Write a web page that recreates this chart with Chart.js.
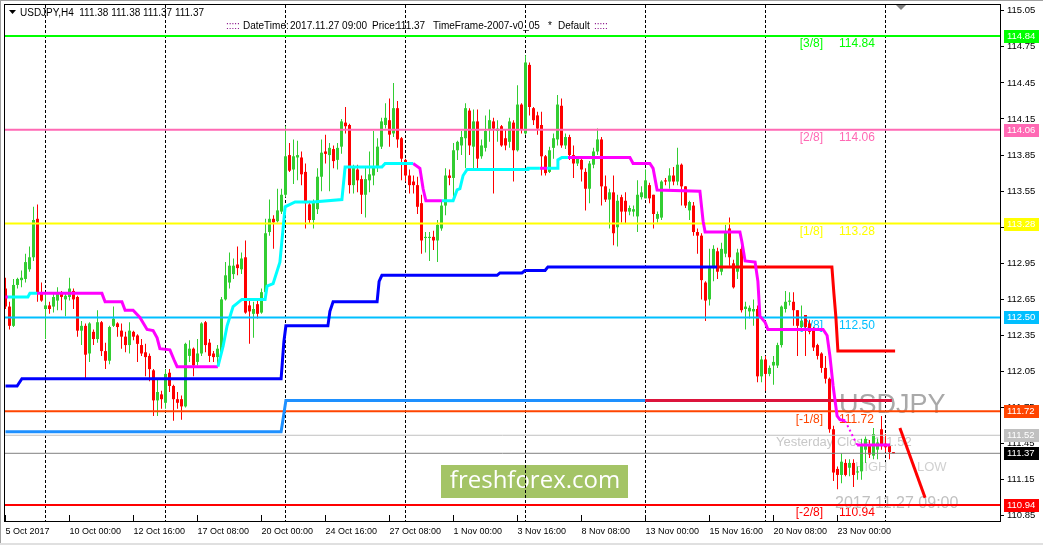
<!DOCTYPE html>
<html>
<head>
<meta charset="utf-8">
<title>USDJPY,H4</title>
<script src="https://cdn.jsdelivr.net/npm/chart.js@4.4.1/dist/chart.umd.min.js"></script>
<style>
  html, body { margin: 0; padding: 0; background: #fff; }
  #wrap { width: 1043px; height: 545px; }
</style>
</head>
<body>
<div id="wrap"><canvas id="chart" width="1043" height="545"></canvas></div>
<script>
// --------------
// DATA (H4 bars, 5 Oct 2017 08:00 .. 27 Nov 2017 08:00)
// --------------
const barOpen = [
  112.74,112.59,112.43,112.77,112.81,112.82,112.90,113.00,113.32,112.70,
  112.57,112.60,112.59,112.64,112.71,112.65,112.67,112.72,112.67,112.39,
  112.43,112.20,112.38,112.32,112.46,112.22,112.14,112.43,112.45,112.39,
  112.34,112.27,112.38,112.35,112.27,112.21,112.18,112.06,111.81,111.86,
  111.79,112.04,111.93,111.82,111.82,111.76,112.18,112.24,112.13,112.20,
  112.46,112.29,112.20,112.17,112.21,112.65,112.79,112.86,112.94,112.90,
  113.00,112.60,112.53,112.61,112.54,112.71,113.21,113.32,113.30,113.38,
  113.52,113.85,113.73,113.83,113.83,113.71,113.44,113.31,113.40,113.67,
  113.88,113.85,113.90,113.81,113.92,114.12,114.10,113.60,113.73,113.65,
  113.52,113.64,113.68,113.75,113.92,114.10,114.14,114.03,114.24,113.99,
  113.81,113.68,113.63,113.60,113.45,113.16,113.16,113.17,113.14,113.24,
  113.43,113.68,113.66,113.89,113.93,113.99,114.22,113.92,114.13,113.84,
  113.91,114.06,114.13,114.05,114.09,113.99,113.96,114.12,113.89,114.27,
  114.03,114.60,114.24,114.18,114.10,113.84,113.71,113.91,113.98,114.26,
  113.93,114.00,113.85,113.78,113.81,113.71,113.57,113.77,113.88,113.98,
  113.59,113.48,113.54,113.25,113.50,113.47,113.38,113.38,113.34,113.50,
  113.49,113.60,113.52,113.32,113.33,113.64,113.63,113.68,113.63,113.77,
  113.59,113.39,113.43,113.21,113.18,112.79,112.65,112.91,113.05,112.88,
  113.03,113.24,112.95,112.88,113.07,112.57,112.55,112.55,112.57,112.01,
  112.15,112.03,112.10,112.10,112.27,112.57,112.63,112.63,112.56,112.42,
  112.52,112.45,112.40,112.27,112.20,112.08,111.99,111.57,111.24,111.19,
  111.29,111.25,111.29,111.21,111.22,111.40,111.43,111.35,111.40,111.57,
  111.45,111.43,111.38
];
const barHigh = [
  112.83,112.63,112.82,112.83,112.89,113.03,113.09,113.42,113.44,112.79,
  112.71,112.63,112.71,112.75,112.72,112.70,112.83,112.74,112.68,112.47,
  112.45,112.46,112.40,112.56,112.47,112.29,112.43,112.59,112.46,112.45,
  112.38,112.46,112.39,112.36,112.32,112.28,112.20,112.07,111.99,111.89,
  112.07,112.07,111.94,111.88,111.85,112.29,112.31,112.25,112.32,112.46,
  112.47,112.32,112.22,112.27,112.67,112.96,113.04,112.99,113.09,113.04,
  113.14,112.66,112.63,112.64,112.74,113.32,113.48,113.35,113.57,113.57,
  114.09,113.95,113.98,113.97,113.88,113.78,113.47,113.48,113.74,113.98,
  114.02,113.95,113.93,113.95,114.15,114.25,114.11,113.77,113.77,113.68,
  113.75,113.88,114.05,113.99,114.16,114.28,114.32,114.45,114.30,114.00,
  113.82,113.73,113.68,113.67,113.52,113.21,113.21,113.22,113.31,113.47,
  113.74,113.73,113.95,113.97,114.05,114.28,114.24,114.23,114.23,113.98,
  114.18,114.23,114.16,114.14,114.10,114.06,114.16,114.14,114.43,114.28,
  114.68,114.62,114.25,114.21,114.21,113.85,113.92,114.03,114.35,114.32,
  114.03,114.02,113.93,113.84,113.82,113.74,113.80,113.91,114.07,114.00,
  113.68,113.57,113.68,113.52,113.52,113.54,113.43,113.43,113.64,113.59,
  113.73,113.62,113.52,113.38,113.64,113.66,113.74,113.75,113.91,113.78,
  113.59,113.47,113.46,113.24,113.20,112.80,113.07,113.10,113.08,113.12,
  113.27,113.33,112.98,113.07,113.10,112.63,112.60,112.65,112.60,112.18,
  112.18,112.10,112.18,112.29,112.60,112.72,112.71,112.71,112.56,112.60,
  112.52,112.48,112.42,112.28,112.21,112.18,112.00,111.60,111.26,111.37,
  111.32,111.32,111.32,111.26,111.49,111.51,111.48,111.58,111.49,111.68,
  111.53,111.45,111.38
];
const barLow = [
  112.57,112.40,112.42,112.74,112.75,112.79,112.88,112.97,112.63,112.63,
  112.32,112.53,112.54,112.56,112.56,112.51,112.64,112.57,112.34,112.27,
  111.99,112.13,112.27,112.29,112.18,112.07,112.11,112.42,112.34,112.24,
  112.21,112.20,112.31,112.13,112.18,112.01,111.97,111.68,111.68,111.74,
  111.74,111.88,111.64,111.74,111.65,111.75,112.13,112.01,112.10,112.18,
  112.21,112.13,112.13,112.10,112.20,112.64,112.74,112.82,112.85,112.86,
  112.53,112.28,112.33,112.49,112.53,112.70,113.18,113.07,113.29,113.36,
  113.50,113.71,113.61,113.64,113.60,113.24,113.28,113.24,113.36,113.55,
  113.78,113.55,113.74,113.73,113.86,114.03,113.53,113.53,113.54,113.36,
  113.33,113.54,113.60,113.71,113.90,114.07,113.92,114.00,113.91,113.64,
  113.63,113.53,113.53,113.36,113.03,113.04,112.97,113.06,112.96,113.22,
  113.35,113.60,113.46,113.81,113.85,113.74,113.85,113.74,113.74,113.82,
  113.88,113.96,113.53,113.96,113.92,113.89,113.91,113.63,113.88,114.03,
  114.02,114.18,114.10,114.02,113.68,113.68,113.70,113.82,113.93,113.91,
  113.90,113.81,113.66,113.76,113.63,113.39,113.45,113.74,113.85,113.43,
  113.46,113.24,113.10,113.09,113.29,113.28,113.35,113.34,113.21,113.48,
  113.49,113.45,113.24,113.29,113.31,113.60,113.57,113.60,113.60,113.43,
  113.41,113.31,113.18,113.03,112.65,112.47,112.60,112.80,112.82,112.85,
  113.00,112.93,112.74,112.82,112.54,112.40,112.49,112.43,111.96,111.96,
  111.89,112.01,111.94,112.08,112.25,112.54,112.60,112.43,112.18,112.39,
  112.18,112.36,112.22,112.15,112.04,111.95,111.54,111.14,111.07,111.12,
  111.18,111.18,111.09,111.15,111.15,111.29,111.33,111.32,111.32,111.40,
  111.38,111.32,111.37
];
const barClose = [
  112.59,112.43,112.77,112.82,112.83,112.96,113.00,113.31,112.70,112.64,
  112.60,112.57,112.67,112.71,112.67,112.68,112.74,112.65,112.39,112.43,
  112.19,112.45,112.32,112.46,112.22,112.14,112.42,112.49,112.42,112.34,
  112.27,112.39,112.34,112.28,112.20,112.17,112.07,111.81,111.88,111.82,
  112.03,111.93,111.82,111.79,111.76,112.28,112.24,112.10,112.20,112.45,
  112.27,112.18,112.17,112.24,112.65,112.85,112.93,112.93,112.91,112.99,
  112.54,112.55,112.57,112.53,112.71,113.20,113.32,113.29,113.39,113.52,
  113.84,113.72,113.84,113.85,113.69,113.45,113.31,113.46,113.67,113.87,
  113.86,113.91,113.80,113.91,114.13,114.09,113.60,113.75,113.64,113.52,
  113.65,113.69,113.75,113.92,114.13,114.16,114.02,114.24,113.98,113.82,
  113.68,113.60,113.60,113.42,113.14,113.17,113.17,113.14,113.27,113.43,
  113.68,113.66,113.89,113.96,114.00,114.24,113.93,114.13,113.82,113.93,
  114.05,114.14,114.07,114.07,113.93,113.93,114.13,113.89,114.27,114.06,
  114.62,114.25,114.14,114.07,113.84,113.70,113.89,113.99,114.27,113.93,
  114.00,113.85,113.78,113.82,113.73,113.57,113.78,113.88,113.98,113.59,
  113.48,113.54,113.20,113.47,113.38,113.38,113.41,113.40,113.52,113.54,
  113.64,113.49,113.36,113.36,113.63,113.63,113.68,113.63,113.77,113.59,
  113.43,113.46,113.21,113.18,112.81,112.64,112.91,113.07,112.88,113.07,
  113.21,113.00,112.75,113.04,112.56,112.59,112.58,112.57,112.01,112.15,
  112.03,112.08,112.13,112.27,112.59,112.63,112.64,112.56,112.43,112.47,
  112.42,112.38,112.25,112.18,112.08,111.99,111.57,111.21,111.19,111.30,
  111.19,111.29,111.19,111.22,111.43,111.49,111.36,111.53,111.46,111.43,
  111.42,111.38,111.37
];

// time axis: bar index -> label
const xTickIdx = [0, 16, 32, 48, 64, 80, 96, 112, 128, 144, 160, 176, 192, 208];
const xTickText = ['5 Oct 2017', '10 Oct 00:00', '12 Oct 16:00', '17 Oct 08:00', '20 Oct 00:00',
  '24 Oct 16:00', '27 Oct 08:00', '1 Nov 00:00', '3 Nov 16:00', '8 Nov 08:00',
  '13 Nov 00:00', '15 Nov 16:00', '20 Nov 08:00', '23 Nov 00:00'];
const weekGridIdx = [10, 40, 70, 100, 130, 160, 190, 220];
const yTicks = [115.05, 114.75, 114.45, 114.15, 113.85, 113.55, 113.25, 112.95,
  112.65, 112.35, 112.05, 111.75, 111.45, 111.15, 110.85];

// Murrey levels
const levelNames = ['[3/8]', '[2/8]', '[1/8]', '[0/8]', '[-1/8]', '[-2/8]'];
const levelValues = [114.84, 114.06, 113.28, 112.50, 111.72, 110.94];
const levelColors = ['#00FF00', '#FF69B4', '#FFFF00', '#00BFFF', '#FF4500', '#FF0000'];
const yesterdayClose = 111.52;
const bidPrice = 111.37;

// indicator lines: [bar index, price], null = gap
const magentaLine = [
  [0, 112.67], [0.6, 112.67], [0.7, null],
  [7.9, 112.70], [24.1, 112.70], [24.9, 112.63], [29.1, 112.63], [29.9, 112.56], [31.9, 112.56],
  [33.6, 112.50], [35.4, 112.40], [36.9, 112.39], [37.9, 112.33], [38.6, 112.24], [41.1, 112.23],
  [42.1, 112.15], [42.9, 112.09], [53.1, 112.09], [53.2, null],
  [101.9, 113.78], [103.6, 113.74], [104.4, 113.57], [105.1, 113.47], [109.1, 113.47], [109.2, null],
  [133.6, 113.74], [135.4, 113.74], [135.5, null],
  [140.6, 113.83], [156.1, 113.83], [156.9, 113.78], [161.1, 113.78], [161.9, 113.74], [162.4, 113.65],
  [162.9, 113.56], [173.6, 113.55], [174.4, 113.30], [174.9, 113.21], [183.6, 113.21], [184.1, 113.13],
  [184.9, 112.97], [187.4, 112.96], [188.1, 112.80], [188.6, 112.51], [189.9, 112.46], [190.6, 112.40],
  [204.4, 112.40], [205.4, 112.35], [206.1, 112.18], [206.9, 111.93], [207.9, 111.68], [208.6, 111.65],
  [209.9, 111.64], [210.0, null],
  [212.9, 111.44], [221.1, 111.44]
];
const magentaDots = [[209.9, 111.64], [212.9, 111.44]];
const cyanLine = [
  [0.6, 112.67], [5.6, 112.67], [6.1, 112.70], [7.9, 112.70], [8.0, null],
  [53.1, 112.09], [54.4, 112.26], [55.4, 112.43], [56.9, 112.59], [59.1, 112.65], [64.9, 112.65],
  [65.4, 112.76], [66.9, 112.78], [68.6, 112.96], [69.4, 113.24], [69.9, 113.42], [72.4, 113.46],
  [76.9, 113.46], [84.1, 113.48], [84.9, 113.75], [94.1, 113.75], [94.9, 113.78], [101.9, 113.78], [102, null],
  [109.1, 113.47], [111.9, 113.47], [112.9, 113.56], [113.6, 113.57], [114.4, 113.68], [115.4, 113.73],
  [130.4, 113.73], [130.6, 113.74], [133.6, 113.74], [133.7, null],
  [135.4, 113.74], [137.9, 113.74], [138.1, 113.81], [139.1, 113.83], [140.6, 113.83]
];
const blueUpper = [
  [0, 111.93], [2.9, 111.93], [4.1, 111.99], [68.9, 111.99], [69.6, 112.30], [70.1, 112.43],
  [80.6, 112.43], [81.1, 112.55], [81.9, 112.63], [92.9, 112.63], [93.4, 112.80], [94.1, 112.85],
  [122.9, 112.85], [123.6, 112.87], [129.1, 112.87], [129.9, 112.89], [134.9, 112.89], [135.6, 112.92],
  [177.9, 112.92]
];
const redUpper = [[177.9, 112.92], [206.6, 112.92], [207.1, 112.70], [207.6, 112.50], [208.1, 112.22], [222.4, 112.22]];
const blueLower = [[0, 111.55], [68.9, 111.55], [69.6, 111.70], [70.1, 111.81], [159.9, 111.81]];
const redLower = [[159.9, 111.81], [221.6, 111.81]];
const forecastLine = [[223.6, 111.58], [229.9, 111.00]];

// --------------
// CHART
// --------------
const X_MIN = -0.125, X_MAX = 248.625;
const Y_MIN = 110.807, Y_MAX = 115.098;
const FONT = "'Liberation Sans', Arial, sans-serif";

const barColors = barOpen.map((o, i) => barClose[i] >= o ? '#32CD32' : '#FF0000');
const wicks = barOpen.map((_, i) => ({ x: i, y: [barLow[i], barHigh[i]] }));
const bodies = barOpen.map((_, i) => ({ x: i, y: [barOpen[i], barClose[i]] }));

function lineDs(arr, color, width, order) {
  return {
    type: 'line',
    data: arr.map(p => ({ x: p[0], y: p[1] })),
    borderColor: color,
    borderWidth: width,
    pointRadius: 0,
    pointHitRadius: 0,
    fill: false,
    tension: 0,
    borderCapStyle: 'butt',
    order: order
  };
}

const datasets = [
  { type: 'bar', data: wicks, backgroundColor: barColors, barThickness: 1, grouped: false,
    borderWidth: 0, inflateAmount: 0, order: 40 },
  { type: 'bar', data: bodies, backgroundColor: barColors, barThickness: 3, grouped: false,
    borderWidth: 0, inflateAmount: 0, minBarLength: 1, order: 39 }
];
levelValues.forEach((v, k) => datasets.push(lineDs([[X_MIN - 1, v], [X_MAX + 1, v]], levelColors[k], 2, 30)));
datasets.push(lineDs([[X_MIN - 1, yesterdayClose], [X_MAX + 1, yesterdayClose]], '#C0C0C0', 1, 31));
datasets.push(lineDs([[X_MIN - 1, bidPrice], [X_MAX + 1, bidPrice]], '#808080', 1, 31));
datasets.push(lineDs(blueLower, '#1E90FF', 3, 12));
datasets.push(lineDs(redLower, '#DC143C', 3, 12));
datasets.push(lineDs(blueUpper, '#0000FF', 3, 11));
datasets.push(lineDs(redUpper, '#FF0000', 3, 11));
datasets.push(lineDs(cyanLine, '#00FFFF', 3, 10));
datasets.push(lineDs(magentaLine, '#FF00FF', 3, 10));
const dots = lineDs(magentaDots, '#FF00FF', 2, 10);
dots.borderDash = [2, 3];
datasets.push(dots);
datasets.push(lineDs(forecastLine, '#FF0000', 3, 9));

// right axis boxes: value, background
const axisBoxes = [
  [114.84, '#00FF00'], [114.06, '#FF69B4'], [113.28, '#FFFF00'], [112.50, '#00BFFF'],
  [111.72, '#FF4500'], [yesterdayClose, '#C0C0C0'], [bidPrice, '#000000'], [110.94, '#FF0000']
];

const decor = {
  id: 'decor',
  beforeDatasetsDraw(chart) {
    const { ctx, chartArea: a } = chart;
    const xs = chart.scales.x, ys = chart.scales.y;
    ctx.save();
    // watermark logo
    ctx.fillStyle = '#A4C466';
    ctx.fillRect(441, 465, 187, 33);
    ctx.fillStyle = '#FFFFFF';
    ctx.font = "24px 'Open Sans', sans-serif";
    ctx.textAlign = 'center';
    ctx.textBaseline = 'middle';
    ctx.fillText('freshforex.com', 535, 481);

    // weekly dashed grid
    ctx.strokeStyle = '#000';
    ctx.lineWidth = 1;
    ctx.setLineDash([3, 2]);
    weekGridIdx.forEach(i => {
      const px = xs.getPixelForValue(i);
      ctx.beginPath();
      ctx.moveTo(px, a.top);
      ctx.lineTo(px, a.bottom);
      ctx.stroke();
    });
    ctx.setLineDash([]);

    // level captions
    ctx.font = '12px ' + FONT;
    levelValues.forEach((v, k) => {
      const py = ys.getPixelForValue(v) + 8;
      ctx.fillStyle = levelColors[k];
      ctx.textAlign = 'right';
      ctx.fillText(levelNames[k], 823, py);
      ctx.textAlign = 'left';
      ctx.fillText(v.toFixed(2), 839, py);
    });

    ctx.textAlign = 'left';
    ctx.fillStyle = '#A9A9A9';
    ctx.font = '27px ' + FONT;
    ctx.fillText('USDJPY', 839, 406);

    ctx.fillStyle = '#C8C8C8';
    ctx.font = '13px ' + FONT;
    ctx.fillText('Yesterday Close ' + yesterdayClose.toFixed(2), 776, 442);
    ctx.fillStyle = '#D0D0D0';
    ctx.fillText('HIGH', 855, 467);
    ctx.fillText('LOW', 917, 467);
    ctx.fillStyle = '#C0C0C0';
    ctx.font = '16px ' + FONT;
    ctx.fillText('2017.11.27 09:00', 835, 504);
    ctx.restore();
  },
  afterDraw(chart) {
    const { ctx, chartArea: a } = chart;
    const xs = chart.scales.x, ys = chart.scales.y;
    ctx.save();
    // window edges
    ctx.fillStyle = '#A0A0A0';
    ctx.fillRect(0, 0, 1043, 1);
    ctx.fillRect(0, 0, 1, 545);
    ctx.fillStyle = '#E0E0E0';
    ctx.fillRect(0, 543, 1043, 2);

    // frame
    ctx.strokeStyle = '#000';
    ctx.lineWidth = 1;
    ctx.strokeRect(a.left - 0.5, a.top - 0.5, a.right - a.left + 1, a.bottom - a.top + 1);

    // time ticks
    ctx.beginPath();
    xTickIdx.forEach(i => {
      const px = xs.getPixelForValue(i);
      ctx.moveTo(px, a.bottom - 6);
      ctx.lineTo(px, a.bottom);
    });
    ctx.stroke();

    // header
    ctx.fillStyle = '#000';
    ctx.beginPath();
    ctx.moveTo(9, 10); ctx.lineTo(16, 10); ctx.lineTo(12.5, 14); ctx.closePath();
    ctx.fill();
    ctx.font = '10px ' + FONT;
    ctx.textBaseline = 'middle';
    ctx.textAlign = 'left';
    ctx.fillText('USDJPY,H4  111.38 111.38 111.37 111.37', 20, 13);
    const info = [
      [226, ':::::', '#800080'], [243, 'DateTime:', '#000'], [290, '2017.11.27 09:00', '#000'],
      [372, 'Price:', '#000'], [396, bidPrice.toFixed(2), '#000'], [433, 'TimeFrame-2007-v0_05', '#000'],
      [548, '*', '#000'], [558, 'Default', '#000'], [594, ':::::', '#800080']
    ];
    info.forEach(t => { ctx.fillStyle = t[2]; ctx.fillText(t[1], t[0], 26); });

    // chart shift marker
    ctx.fillStyle = '#808080';
    ctx.beginPath();
    ctx.moveTo(896, 5); ctx.lineTo(906, 5); ctx.lineTo(901, 10); ctx.closePath();
    ctx.fill();

    // price boxes on the right axis
    ctx.font = '9.5px ' + FONT;
    axisBoxes.forEach(b => {
      const py = Math.round(ys.getPixelForValue(b[0]));
      ctx.fillStyle = b[1];
      ctx.fillRect(1004, py - 6, 35, 13);
      ctx.fillStyle = '#FFFFFF';
      ctx.fillText(b[0].toFixed(2), 1007, py + 0.5);
    });
    ctx.restore();
  }
};

new Chart(document.getElementById('chart'), {
  type: 'bar',
  data: { datasets: datasets },
  options: {
    responsive: false,
    maintainAspectRatio: false,
    devicePixelRatio: 1,
    animation: false,
    events: [],
    layout: { padding: { left: 5, top: 5, right: 0, bottom: 0 } },
    plugins: { legend: { display: false }, tooltip: { enabled: false } },
    scales: {
      x: {
        type: 'linear',
        min: X_MIN,
        max: X_MAX,
        offset: false,
        bounds: 'data',
        afterBuildTicks: s => { s.ticks = xTickIdx.map(v => ({ value: v })); },
        afterFit: s => { s.height = 24; s.paddingLeft = 0; s.paddingRight = 0; },
        ticks: {
          align: 'start', autoSkip: false, maxRotation: 0, minRotation: 0, padding: 5,
          color: '#000', font: { family: FONT, size: 9 },
          callback: (v, i) => xTickText[i]
        },
        grid: { display: false, drawTicks: false, offset: false },
        border: { display: false }
      },
      y: {
        type: 'linear',
        position: 'right',
        min: Y_MIN,
        max: Y_MAX,
        bounds: 'data',
        afterBuildTicks: s => { s.ticks = yTicks.map(v => ({ value: v })); },
        afterFit: s => { s.width = 43; s.paddingTop = 0; s.paddingBottom = 0; },
        ticks: {
          autoSkip: false, padding: 3, color: '#000', font: { family: FONT, size: 9.5 },
          callback: v => Number(v).toFixed(2)
        },
        grid: { drawOnChartArea: false, drawTicks: true, tickLength: 4, color: '#000' },
        border: { display: false }
      }
    }
  },
  plugins: [decor]
});
</script>
</body>
</html>
